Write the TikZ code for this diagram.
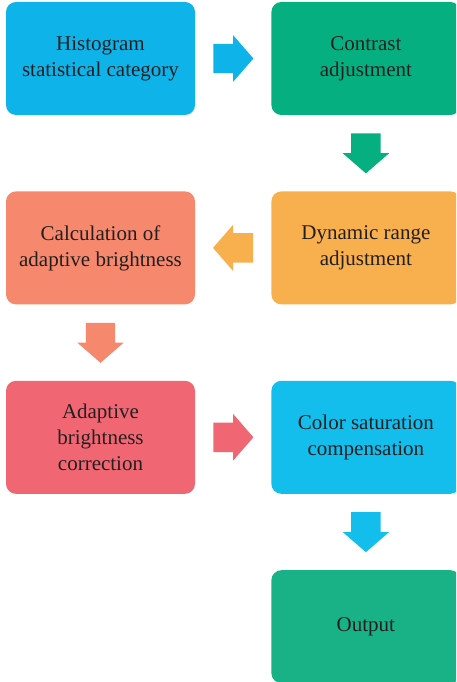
\documentclass[tikz,border=0pt]{standalone}
\usepackage{fontspec}
\setmainfont{Liberation Serif}
\usepackage{xcolor}
\usepackage{tikz}
\usetikzlibrary{positioning,calc,shapes.arrows}

\definecolor{histblue}{HTML}{0DB3E9}
\definecolor{contgreen}{HTML}{05AF80}
\definecolor{dynorange}{HTML}{F8AF4E}
\definecolor{calcsalmon}{HTML}{F6886D}
\definecolor{adaptred}{HTML}{F06773}
\definecolor{colorblue}{HTML}{13BDEC}
\definecolor{outgreen}{HTML}{18B286}
\definecolor{txtgray}{HTML}{231F20}

\begin{document}
\begin{tikzpicture}[
  block/.style={rectangle, rounded corners=10pt, minimum height=113pt, minimum width=189pt, inner sep=0pt,
    align=center, text=txtgray, font=\fontsize{21}{26}\selectfont},
  fatarrow/.style={single arrow, minimum height=40pt, anchor=tail, shape border rotate=#1,
    inner xsep={14.5pt*abs(sin(#1))}, inner ysep={14.5pt*abs(cos(#1))},
    single arrow head extend=8.5pt, single arrow head indent=0pt, single arrow tip angle=98},
  node distance=76pt
]
\path[use as bounding box, clip] (0,0) rectangle (456pt,-682pt);

\node[block, fill=histblue] (hist) at (100.5pt,-58.5pt) {Histogram\\statistical category};
\node[block, fill=contgreen, right=of hist] (contrast) {Contrast\\adjustment};
\node[block, fill=dynorange, below=of contrast] (dyn) {Dynamic range\\adjustment};
\node[block, fill=calcsalmon, left=of dyn] (calcb) {Calculation of\\adaptive brightness};
\node[block, fill=adaptred, below=of calcb] (adapt) {Adaptive\\brightness\\correction};
\node[block, fill=colorblue, right=of adapt] (colsat) {Color saturation\\compensation};
\node[block, fill=outgreen, below=of colsat] (output) {Output};

% block arrows between the steps
\foreach \a/\b/\c/\r in {hist/contrast/histblue/0, contrast/dyn/contgreen/270, dyn/calcb/dynorange/180,
    calcb/adapt/calcsalmon/270, adapt/colsat/adaptred/0, colsat/output/colorblue/270}
  \node[fatarrow=\r, fill=\c] (arr-\a) at ($($(\a)!0.5!(\b)$)!20pt!(\a)$) {};

\end{tikzpicture}
\end{document}
